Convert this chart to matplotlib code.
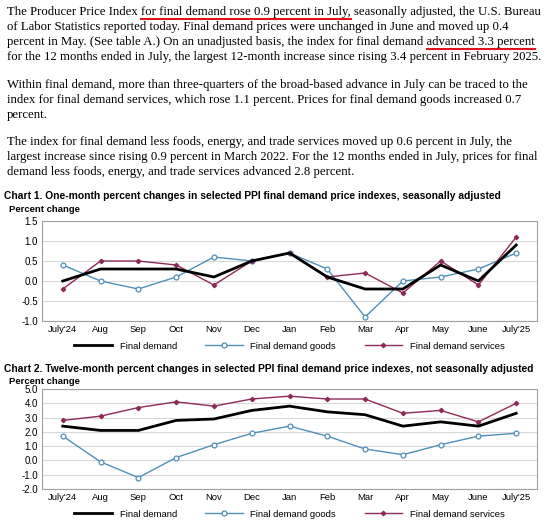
import matplotlib
matplotlib.use("Agg")
import matplotlib.pyplot as plt

months = ["July'24","Aug","Sep","Oct","Nov","Dec","Jan","Feb","Mar","Apr","May","June","July'25"]
c1_final = [0.0,0.3,0.3,0.3,0.1,0.5,0.7,0.1,-0.2,-0.2,0.4,0.0,0.9]
c1_goods = [0.4,0.0,-0.2,0.1,0.6,0.5,0.7,0.3,-0.9,0.0,0.1,0.3,0.7]
c1_serv = [-0.2,0.5,0.5,0.4,-0.1,0.5,0.7,0.1,0.2,-0.3,0.5,-0.1,1.1]
c2_final = [2.4,2.1,2.1,2.8,2.9,3.5,3.8,3.4,3.2,2.4,2.7,2.4,3.3]
c2_goods = [1.7,-0.1,-1.2,0.2,1.1,1.9,2.4,1.7,0.8,0.4,1.1,1.7,1.9]
c2_serv = [2.8,3.1,3.7,4.1,3.8,4.3,4.5,4.3,4.3,3.3,3.5,2.7,4.0]

para_lines = [
 (12, "The Producer Price Index for final demand rose 0.9 percent in July, seasonally adjusted, the U.S. Bureau", "for final demand rose 0.9 percent in July,"),
 (27, "of Labor Statistics reported today. Final demand prices were unchanged in June and moved up 0.4", None),
 (42, "percent in May. (See table A.) On an unadjusted basis, the index for final demand advanced 3.3 percent", "advanced 3.3 percent"),
 (57, "for the 12 months ended in July, the largest 12-month increase since rising 3.4 percent in February 2025.", None),
 (85, "Within final demand, more than three-quarters of the broad-based advance in July can be traced to the", None),
 (100, "index for final demand services, which rose 1.1 percent. Prices for final demand goods increased 0.7", None),
 (115, "percent.", None),
 (142, "The index for final demand less foods, energy, and trade services moved up 0.6 percent in July, the", None),
 (157, "largest increase since rising 0.9 percent in March 2022. For the 12 months ended in July, prices for final", None),
 (172, "demand less foods, energy, and trade services advanced 2.8 percent.", None),
]

W, H = 554, 520
fig = plt.figure(figsize=(W/100, H/100), dpi=100)
fig.patch.set_facecolor("white")
r = fig.canvas.get_renderer()
FS = 9.2
for y, s, u in para_lines:
    t = fig.text(7/W, 1 - y/H, s, family="Liberation Serif", fontsize=FS, va="center", ha="left")
    if u:
        i = s.index(u)
        pre = fig.text(0, 0, s[:i], family="Liberation Serif", fontsize=FS)
        seg = fig.text(0, 0, u, family="Liberation Serif", fontsize=FS)
        x0 = 7 + pre.get_window_extent(r).width
        x1 = x0 + seg.get_window_extent(r).width
        pre.remove(); seg.remove()
        yy = 1 - (y + 6.5)/H
        fig.add_artist(plt.Line2D([x0/W, x1/W], [yy, yy], color="#e0141e", lw=1.5))

goods_c = "#4f8fb8"
serv_c = "#8e2a58"

def chart(top_title, title, yt, ax_box, f, g, s, ylim, ticks, fmt):
    fig.text(4/W, 1 - top_title/H, title, fontsize=7.4, fontweight="bold", va="center", family="Liberation Sans")
    fig.text(9/W, 1 - yt/H, "Percent change", fontsize=6.8, fontweight="bold", va="center", family="Liberation Sans")
    l, t, rgt, b = ax_box
    ax = fig.add_axes([l/W, 1 - b/H, (rgt-l)/W, (b-t)/H])
    x = range(len(months))
    ax.plot(x, f, color="black", lw=2, label="Final demand", zorder=3)
    ax.plot(x, g, color=goods_c, lw=1, marker="o", ms=3.5, mfc="white", mec=goods_c, mew=0.9, label="Final demand goods", zorder=2)
    ax.plot(x, s, color=serv_c, lw=1, marker="D", ms=2.2, label="Final demand services", zorder=2)
    ax.set_xlim(-0.55, len(months)-0.45)
    ax.set_ylim(*ylim)
    ax.set_yticks(ticks)
    ax.set_yticklabels([fmt % v for v in ticks], fontsize=7, family="Liberation Sans")
    ax.set_xticks(list(x))
    ax.set_xticklabels(months, fontsize=6.8, family="Liberation Sans")
    ax.tick_params(length=0, pad=3)
    ax.grid(axis="y", color="#d8d8d8", lw=0.8)
    ax.set_axisbelow(True)
    for sp in ax.spines.values():
        sp.set_color("#a0a0a0"); sp.set_linewidth(0.8)
    ax.legend(loc="upper center", bbox_to_anchor=(0.5, -0.17), ncol=3, frameon=False,
              prop={"family": "Liberation Sans", "size": 6.8}, handlelength=4, columnspacing=3, borderaxespad=0)
    return ax

chart(196, "Chart 1. One-month percent changes in selected PPI final demand price indexes, seasonally adjusted", 209,
      (42, 221, 537, 321), c1_final, c1_goods, c1_serv, (-1.0, 1.5), [1.5,1.0,0.5,0.0,-0.5,-1.0], "%.1f")
chart(369, "Chart 2. Twelve-month percent changes in selected PPI final demand price indexes, not seasonally adjusted", 382,
      (42, 389, 537, 489), c2_final, c2_goods, c2_serv, (-2.0, 5.0), [5.0,4.0,3.0,2.0,1.0,0.0,-1.0,-2.0], "%.1f")

fig.savefig("out.png", dpi=100)
